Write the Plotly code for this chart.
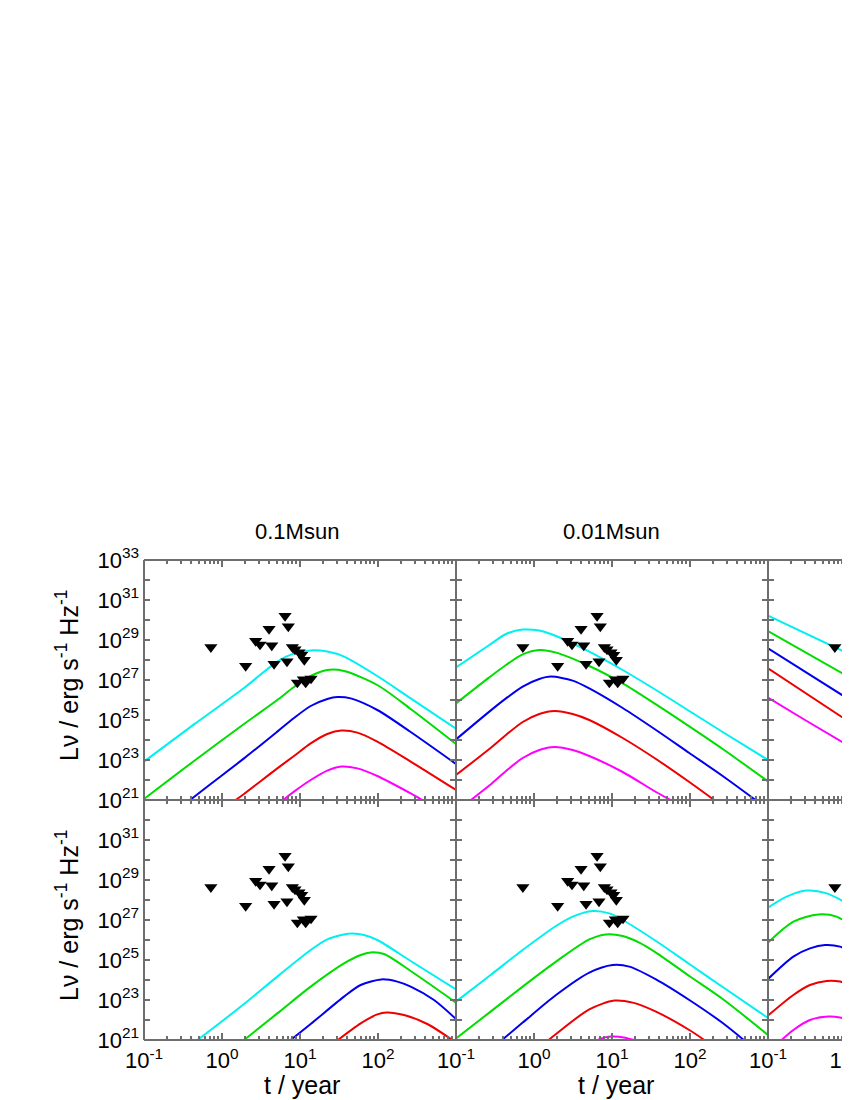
import plotly.graph_objects as go

# ---------------- data (log10 t/year, log10 L_nu) ----------------
# observational upper limits (same in every panel)
tri_t = [0.72, 2.01, 2.70, 3.07, 4.34, 4.01, 4.65, 6.43, 7.08, 6.81,
         7.98, 8.63, 9.70, 10.5, 11.35, 9.25, 11.04, 11.83, 13.84]
tri_logL = [28.64, 27.70, 28.95, 28.77, 28.73, 29.55, 27.80, 30.20, 29.68, 27.93,
            28.64, 28.53, 28.38, 28.25, 28.00, 26.87, 27.03, 26.87, 27.07]

# top-left panel (0.1 Msun, upper row)
tl_cyan_t = [-1, -0.359, 0.282, 0.709, 0.923, 1.137, 1.350, 1.564, 1.991, 2.419, 3.0]
tl_cyan_L = [22.92, 24.78, 26.6, 27.92, 28.33, 28.48, 28.42, 28.17, 27.2, 26.08, 24.57]
tl_green_t = [-1, -0.359, 0.282, 0.709, 0.923, 1.137, 1.350, 1.564, 1.991, 2.419, 3.0]
tl_green_L = [21.05, 22.95, 24.8, 26.0, 26.65, 27.2, 27.5, 27.45, 26.75, 25.55, 23.8]
tl_blue_t = [-0.41, -0.145, 0.282, 0.709, 0.923, 1.137, 1.350, 1.479, 1.650, 1.991, 2.419, 3.0]
tl_blue_L = [21.0, 21.8, 23.08, 24.42, 25.1, 25.7, 26.05, 26.15, 26.08, 25.5, 24.4, 22.8]
tl_red_t = [0.175, 0.282, 0.709, 0.923, 1.137, 1.350, 1.53, 1.735, 1.991, 2.419, 3.0]
tl_red_L = [21.0, 21.3, 22.58, 23.2, 23.83, 24.3, 24.47, 24.37, 23.92, 22.92, 21.5]
tl_mag_t = [0.786, 0.923, 1.137, 1.350, 1.53, 1.735, 1.991, 2.419, 2.568]
tl_mag_L = [21.0, 21.42, 22.0, 22.47, 22.67, 22.58, 22.2, 21.33, 21.0]

# top-middle panel (0.01 Msun, upper row)
tm_cyan_t = [-1, -0.573, -0.359, -0.145, 0.068, 0.282, 0.709, 1.137, 1.564, 1.991, 2.419, 3.0]
tm_cyan_L = [27.63, 28.75, 29.3, 29.52, 29.47, 29.2, 28.42, 27.5, 26.5, 25.45, 24.4, 23.0]
tm_green_t = [-1, -0.573, -0.359, -0.145, 0.068, 0.282, 0.709, 1.137, 1.564, 1.991, 2.419, 3.0]
tm_green_L = [25.83, 27.13, 27.75, 28.28, 28.5, 28.37, 27.7, 26.83, 25.78, 24.68, 23.55, 21.93]
tm_blue_t = [-1, -0.573, -0.359, -0.145, 0.068, 0.218, 0.496, 0.709, 1.137, 1.564, 1.991, 2.419, 2.84]
tm_blue_L = [24.03, 25.42, 26.08, 26.67, 27.05, 27.17, 26.97, 26.58, 25.6, 24.5, 23.35, 22.2, 21.0]
tm_red_t = [-1, -0.573, -0.359, -0.145, 0.068, 0.261, 0.496, 0.709, 1.137, 1.564, 1.991, 2.31]
tm_red_L = [22.25, 23.55, 24.25, 24.9, 25.3, 25.45, 25.3, 25.0, 24.1, 23.05, 21.9, 21.0]
tm_mag_t = [-0.808, -0.573, -0.359, -0.145, 0.068, 0.261, 0.496, 0.709, 1.137, 1.564, 1.75]
tm_mag_L = [21.0, 21.72, 22.45, 23.1, 23.5, 23.65, 23.5, 23.2, 22.4, 21.4, 21.0]

# top-right panel (upper row, only partly visible)
tr_cyan_t = [-1, 0.051]
tr_cyan_L = [30.22, 28.28]
tr_green_t = [-1, 0.051]
tr_green_L = [29.45, 27.12]
tr_blue_t = [-1, 0.051]
tr_blue_L = [28.58, 26.0]
tr_red_t = [-1, 0.051]
tr_red_L = [27.58, 24.88]
tr_mag_t = [-1, -0.547, 0.051]
tr_mag_L = [26.12, 25.05, 23.67]

# bottom-left panel (0.1 Msun, lower row)
bl_cyan_t = [-0.316, -0.145, 0.282, 0.709, 1.137, 1.350, 1.564, 1.671, 1.821, 1.991, 2.419, 3.0]
bl_cyan_L = [21.0, 21.5, 22.8, 24.17, 25.5, 26.03, 26.28, 26.32, 26.25, 26.0, 24.95, 23.53]
bl_green_t = [0.282, 0.709, 1.137, 1.564, 1.778, 1.906, 2.077, 2.419, 3.0]
bl_green_L = [21.0, 22.33, 23.67, 24.83, 25.25, 25.38, 25.3, 24.45, 22.87]
bl_blue_t = [0.880, 1.137, 1.564, 1.778, 2.043, 2.248, 2.419, 2.718, 3.0]
bl_blue_L = [21.0, 21.8, 23.17, 23.75, 24.03, 23.92, 23.67, 23.0, 22.05]
bl_red_t = [1.487, 1.778, 1.991, 2.111, 2.333, 2.632, 2.953]
bl_red_L = [21.0, 21.83, 22.28, 22.38, 22.25, 21.8, 21.0]
bl_mag_t = []
bl_mag_L = []

# bottom-middle panel (0.01 Msun, lower row)
bm_cyan_t = [-1, -0.573, -0.145, 0.282, 0.496, 0.752, 0.966, 1.137, 1.564, 1.991, 2.419, 3.0]
bm_cyan_L = [22.92, 24.2, 25.5, 26.7, 27.17, 27.45, 27.33, 27.0, 25.95, 24.8, 23.65, 22.1]
bm_green_t = [-1, -0.573, -0.145, 0.282, 0.709, 0.923, 1.137, 1.350, 1.564, 1.991, 2.419, 3.0]
bm_green_L = [21.08, 22.37, 23.67, 24.92, 26.03, 26.28, 26.2, 25.87, 25.37, 24.2, 23.05, 21.25]
bm_blue_t = [-0.41, -0.145, 0.282, 0.709, 1.009, 1.222, 1.564, 1.991, 2.419, 2.69]
bm_blue_L = [21.0, 21.87, 23.25, 24.37, 24.75, 24.67, 24.03, 23.0, 21.85, 21.0]
bm_red_t = [0.188, 0.282, 0.709, 1.03, 1.265, 1.564, 1.991, 2.184]
bm_red_L = [21.0, 21.3, 22.53, 22.97, 22.87, 22.42, 21.5, 21.0]
bm_mag_t = [0.816, 0.9, 1.009, 1.15, 1.286]
bm_mag_L = [21.0, 21.12, 21.17, 21.13, 21.0]

# bottom-right panel (lower row, only partly visible)
br_cyan_t = [-1, -0.761, -0.504, -0.248, 0.051]
br_cyan_L = [27.62, 28.17, 28.47, 28.33, 27.75]
br_green_t = [-1, -0.675, -0.355, -0.12, 0.051]
br_green_L = [25.87, 26.92, 27.28, 27.17, 26.75]
br_blue_t = [-1, -0.675, -0.462, -0.269, -0.077, 0.051]
br_blue_L = [24.05, 25.17, 25.58, 25.75, 25.67, 25.42]
br_red_t = [-1, -0.675, -0.462, -0.248, -0.077, 0.051]
br_red_L = [22.22, 23.25, 23.75, 23.95, 23.92, 23.75]
br_mag_t = [-0.825, -0.675, -0.462, -0.226, -0.077, 0.051]
br_mag_L = [21.0, 21.5, 22.0, 22.17, 22.13, 22.0]

column_titles = ["0.1Msun", "0.01Msun"]
x_label_exps = [-1, 0, 1, 2]
x_minor_exps = [-1, 0, 1, 2]
y_label_exps_top = [21, 23, 25, 27, 29, 31, 33]
y_label_exps_bottom = [21, 23, 25, 27, 29, 31]
y_unlabeled_exps = [22, 24, 26, 28, 30, 32]
line_colors = ["#00f0f0", "#00dd00", "#0000ee", "#ee0000", "#ff00ff"]

# ---------------- layout helpers ----------------
# the page body has an 8px margin, so figure coords = page coords - 8
OFF = 8
W, H = 850 - OFF, 1100 - OFF
col_px = [(144, 456), (456, 768), (768, 850)]   # page pixels
row_px = [(560, 800), (800, 1040)]
grey = "#6e6e6e"
FONT = "Liberation Sans, Arial, Helvetica, sans-serif"


def fx(px):
    return (px - OFF) / W


def fy(py):
    return 1 - (py - OFF) / H


panels = [
    [(tl_cyan_t, tl_cyan_L), (tl_green_t, tl_green_L), (tl_blue_t, tl_blue_L), (tl_red_t, tl_red_L), (tl_mag_t, tl_mag_L)],
    [(tm_cyan_t, tm_cyan_L), (tm_green_t, tm_green_L), (tm_blue_t, tm_blue_L), (tm_red_t, tm_red_L), (tm_mag_t, tm_mag_L)],
    [(tr_cyan_t, tr_cyan_L), (tr_green_t, tr_green_L), (tr_blue_t, tr_blue_L), (tr_red_t, tr_red_L), (tr_mag_t, tr_mag_L)],
    [(bl_cyan_t, bl_cyan_L), (bl_green_t, bl_green_L), (bl_blue_t, bl_blue_L), (bl_red_t, bl_red_L), (bl_mag_t, bl_mag_L)],
    [(bm_cyan_t, bm_cyan_L), (bm_green_t, bm_green_L), (bm_blue_t, bm_blue_L), (bm_red_t, bm_red_L), (bm_mag_t, bm_mag_L)],
    [(br_cyan_t, br_cyan_L), (br_green_t, br_green_L), (br_blue_t, br_blue_L), (br_red_t, br_red_L), (br_mag_t, br_mag_L)],
]

fig = go.Figure()
layout = dict(width=W, height=H, margin=dict(l=0, r=0, t=0, b=0),
              paper_bgcolor="white", plot_bgcolor="white", showlegend=False)

x_minor = [m * 10.0 ** e for e in x_minor_exps for m in range(2, 10)]

for r in range(2):
    for c in range(3):
        n = r * 3 + c + 1
        xs = "" if n == 1 else str(n)
        x0, x1 = col_px[c]
        y0, y1 = row_px[r]
        xr_hi = -1 + (x1 - x0) / 78.0
        xexps = [e for e in x_label_exps if e <= xr_hi]
        yexps = y_label_exps_top if r == 0 else y_label_exps_bottom
        layout["xaxis" + xs] = dict(
            domain=[fx(x0), min(1.0, fx(x1))], anchor="y" + xs, type="log", range=[-1, xr_hi],
            showline=False, showgrid=False, zeroline=False, mirror="ticks",
            tickmode="array", tickvals=[10.0 ** e for e in xexps],
            ticktext=["10<sup>%d</sup>" % e for e in xexps],
            ticks="inside", ticklen=7, tickwidth=1.5, tickcolor=grey,
            minor=dict(tickmode="array", tickvals=x_minor, ticks="inside", ticklen=4,
                       tickwidth=1.5, tickcolor=grey, showgrid=False),
            showticklabels=(r == 1), ticklabelstandoff=5, ticklabeloverflow="allow",
            tickfont=dict(family=FONT, size=22, color="black"), automargin=False)
        layout["yaxis" + xs] = dict(
            domain=[fy(y1), fy(y0)], anchor="x" + xs, type="log", range=[21, 33],
            showline=False, showgrid=False, zeroline=False,
            mirror=("ticks" if c < 2 else False),
            tickmode="array", tickvals=[10.0 ** e for e in yexps],
            ticktext=["10<sup>%d</sup>" % e for e in yexps],
            ticks="inside", ticklen=6, tickwidth=1.5, tickcolor=grey,
            minor=dict(tickmode="array", tickvals=[10.0 ** e for e in y_unlabeled_exps],
                       ticks="inside", ticklen=6, tickwidth=1.5, tickcolor=grey, showgrid=False),
            showticklabels=(c == 0), ticklabelstandoff=4,
            tickfont=dict(family=FONT, size=22, color="black"), automargin=False)

        for (ct, cL), col in zip(panels[n - 1], line_colors):
            if not ct:
                continue
            fig.add_trace(go.Scatter(
                x=[10.0 ** v for v in ct], y=[10.0 ** v for v in cL],
                mode="lines", xaxis="x" + xs, yaxis="y" + xs,
                line=dict(color=col, width=2, shape="spline", smoothing=0.8),
                hoverinfo="skip"))
        fig.add_trace(go.Scatter(
            x=tri_t, y=[10.0 ** v for v in tri_logL], mode="markers",
            xaxis="x" + xs, yaxis="y" + xs,
            marker=dict(symbol="triangle-down", size=11.5, color="black", line=dict(width=0))))

# frame lines
shapes = []
for xp in (144, 456, 768):
    shapes.append(dict(type="line", xref="paper", yref="paper",
                       x0=fx(xp), x1=fx(xp), y0=fy(1040), y1=fy(560),
                       line=dict(color=grey, width=2)))
for yp in (560, 800, 1040):
    shapes.append(dict(type="line", xref="paper", yref="paper",
                       x0=fx(144), x1=1.0, y0=fy(yp), y1=fy(yp),
                       line=dict(color=grey, width=2)))
layout["shapes"] = shapes

ann = []
for c, title in enumerate(column_titles):
    ann.append(dict(text=title, x=fx([297, 611][c]), y=fy(531), xref="paper", yref="paper",
                    showarrow=False, font=dict(family=FONT, size=22, color="black"),
                    xanchor="center", yanchor="middle"))
    ann.append(dict(text="t / year", x=fx([302, 616][c]), y=fy(1085), xref="paper", yref="paper",
                    showarrow=False, font=dict(family=FONT, size=25, color="black"),
                    xanchor="center", yanchor="middle"))
for yc in (676, 916):
    ann.append(dict(text="Lν / erg s<sup>-1</sup> Hz<sup>-1</sup>", x=fx(67), y=fy(yc),
                    xref="paper", yref="paper", showarrow=False, textangle=-90,
                    font=dict(family=FONT, size=25, color="black"),
                    xanchor="center", yanchor="middle"))
layout["annotations"] = ann

fig.update_layout(**layout)
fig.write_html("out.html")
